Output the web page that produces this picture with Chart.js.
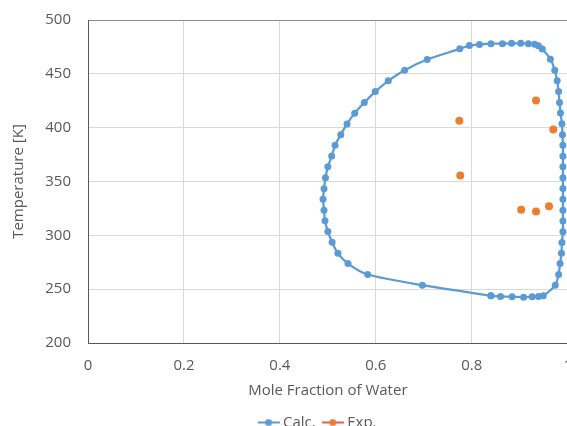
<!DOCTYPE html>
<html>
<head>
<meta charset="utf-8">
<script src="https://cdn.jsdelivr.net/npm/chart.js@4"></script>
<style>
  body { margin: 0; overflow: hidden; background: #fff; }
  #chart { position: absolute; left: 0; top: 0; }
</style>
</head>
<body>
<canvas id="chart" width="576" height="440"></canvas>
<script>
// calculated loop (mole fraction of water, temperature K), in drawing order
const calcX = [0.840, 0.860, 0.884, 0.908, 0.926, 0.939, 0.949,
    0.974, 0.981, 0.984, 0.987, 0.988, 0.990, 0.990, 0.990, 0.990, 0.990, 0.990, 0.990, 0.990,
    0.990, 0.989, 0.988, 0.985, 0.983, 0.981, 0.978, 0.973, 0.964, 0.947,
    0.939, 0.931, 0.918, 0.902, 0.883, 0.864, 0.840, 0.816, 0.795, 0.775,
    0.707, 0.660, 0.626, 0.599, 0.576, 0.556, 0.540, 0.527, 0.515, 0.508, 0.500,
    0.495, 0.492, 0.490, 0.492, 0.494, 0.500, 0.509, 0.521, 0.542, 0.583, 0.697, 0.840];
const calcT = [243.8, 243.2, 243.0, 242.4, 243.0, 243.2, 243.8,
    253.7, 263.6, 273.8, 283.3, 293.3, 303.4, 313.3, 323.4, 333.4, 343.5, 353.4, 363.6, 373.4,
    383.6, 393.5, 403.7, 413.6, 423.4, 433.6, 443.5, 453.4, 463.6, 473.0,
    476.0, 477.5, 478.0, 478.3, 478.3, 478.0, 478.0, 477.2, 476.2, 473.2,
    463.3, 453.4, 443.5, 433.5, 423.4, 413.5, 403.5, 393.5, 383.6, 373.6, 363.6,
    353.4, 343.3, 333.5, 323.4, 313.5, 303.6, 293.5, 283.3, 273.8, 263.6, 253.7, 243.8];

// experimental points
const expX = [0.934, 0.774, 0.970, 0.776, 0.903, 0.934, 0.961];
const expT = [425.3, 406.5, 398.4, 355.6, 323.8, 322.2, 326.9];

const blue = '#5b9bd5';
const orange = '#ed7d31';
const textColor = '#595959';
const fontFamily = '"Open Sans", "Noto Sans", sans-serif';

function legendMark(lineColor, dotColor) {
    const c = document.createElement('canvas');
    c.width = 22; c.height = 8;
    const g = c.getContext('2d');
    g.strokeStyle = lineColor;
    g.lineWidth = 2;
    g.beginPath(); g.moveTo(0, 4); g.lineTo(22, 4); g.stroke();
    g.fillStyle = dotColor;
    g.beginPath(); g.arc(11, 4, 3.5, 0, Math.PI * 2); g.fill();
    return c;
}
const marks = [legendMark(blue, blue), legendMark('#f4594a', orange)];

const shiftLegend = {
    id: 'shiftLegend',
    afterLayout(chart) {
        chart.legend.left += 31;
        chart.legend.right += 31;
    }
};

new Chart(document.getElementById('chart').getContext('2d'), {
    type: 'scatter',
    data: {
        datasets: [{
            label: 'Calc.',
            data: calcX.map((x, i) => ({x: x, y: calcT[i]})),
            showLine: true,
            borderColor: blue,
            borderWidth: 2.25,
            backgroundColor: blue,
            pointRadius: 3.5,
            pointBorderWidth: 0,
            pointHoverRadius: 3.5,
            tension: 0.25
        }, {
            label: 'Exp.',
            data: expX.map((x, i) => ({x: x, y: expT[i]})),
            showLine: false,
            borderColor: orange,
            backgroundColor: orange,
            pointRadius: 4,
            pointBorderWidth: 0
        }]
    },
    options: {
        responsive: false,
        animation: false,
        layout: { padding: { top: 20, right: 0, left: 0, bottom: 0 } },
        plugins: {
            tooltip: { enabled: false },
            legend: {
                position: 'bottom',
                labels: {
                    color: textColor,
                    font: { family: fontFamily, size: 15 },
                    usePointStyle: true,
                    pointStyleWidth: 14,
                    padding: 10,
                    generateLabels(chart) {
                        return chart.data.datasets.map((ds, i) => ({
                            text: ds.label,
                            pointStyle: marks[i],
                            fontColor: textColor,
                            datasetIndex: i,
                            lineWidth: 0,
                            strokeStyle: 'transparent',
                            fillStyle: 'transparent'
                        }));
                    }
                }
            }
        },
        scales: {
            x: {
                min: 0,
                max: 1,
                afterFit(scale) { scale.height = 62; },
                ticks: {
                    stepSize: 0.2,
                    color: textColor,
                    padding: 4,
                    font: { family: fontFamily, size: 15 },
                    callback: v => String(Number(v.toFixed(1)))
                },
                grid: { color: '#d9d9d9', tickColor: 'transparent', tickLength: 10 },
                border: { color: '#595959', width: 1 },
                title: {
                    display: true,
                    text: 'Mole Fraction of Water',
                    color: textColor,
                    font: { family: fontFamily, size: 15 },
                    padding: { top: 0, bottom: 5 }
                }
            },
            y: {
                min: 200,
                max: 500,
                afterFit(scale) { scale.width = 88; },
                ticks: {
                    stepSize: 50,
                    color: textColor,
                    padding: 11,
                    font: { family: fontFamily, size: 15 }
                },
                grid: {
                    color: ctx => ctx.tick && ctx.tick.value === 500 ? '#8c8c8c' : '#d9d9d9',
                    tickColor: 'transparent',
                    tickLength: 6
                },
                border: { color: '#595959', width: 1 },
                title: {
                    display: true,
                    text: 'Temperature [K]',
                    color: textColor,
                    font: { family: fontFamily, size: 15 },
                    padding: { top: 10, bottom: 0 }
                }
            }
        }
    },
    plugins: [shiftLegend]
});
</script>
</body>
</html>
